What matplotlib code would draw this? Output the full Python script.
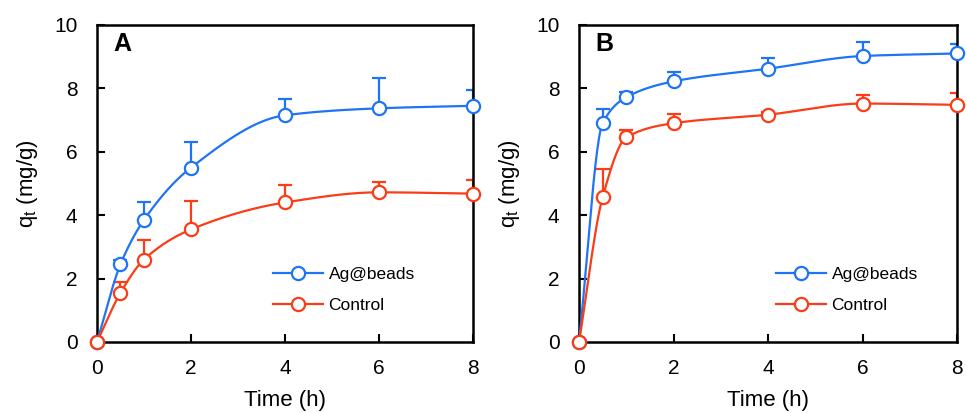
"""
Adsorption kinetics: q_t vs time for Ag@beads and control, panels A and B.
"""
import matplotlib.pyplot as plt
import numpy as np

plt.rcParams['font.family'] = ['Liberation Sans', 'DejaVu Sans']

time_h = [0, 0.5, 1, 2, 4, 6, 8]

# Panel A
a_beads = [0, 2.45, 3.85, 5.5, 7.15, 7.37, 7.45]
a_beads_err = [0, 0.15, 0.55, 0.8, 0.52, 0.95, 0.5]
a_control = [0, 1.55, 2.6, 3.55, 4.4, 4.72, 4.68]
a_control_err = [0, 0.35, 0.62, 0.9, 0.55, 0.33, 0.42]

# Panel B
b_beads = [0, 6.9, 7.72, 8.22, 8.62, 9.02, 9.1]
b_beads_err = [0, 0.45, 0.15, 0.28, 0.33, 0.43, 0.3]
b_control = [0, 4.57, 6.45, 6.9, 7.17, 7.52, 7.48]
b_control_err = [0, 0.88, 0.25, 0.3, 0.08, 0.28, 0.37]

BLUE = '#1f74f5'
RED = '#fb3c16'


def pchip(x, y, xs):
    """Monotone cubic (Fritsch-Carlson) used to draw the smoothed line."""
    x = np.asarray(x, float)
    y = np.asarray(y, float)
    h = np.diff(x)
    d = np.diff(y) / h
    m = np.zeros_like(y)
    for k in range(1, len(x) - 1):
        if d[k - 1] * d[k] > 0:
            w1 = 2 * h[k] + h[k - 1]
            w2 = h[k] + 2 * h[k - 1]
            m[k] = (w1 + w2) / (w1 / d[k - 1] + w2 / d[k])
    m[0] = d[0]
    m[-1] = d[-1]
    idx = np.clip(np.searchsorted(x, xs) - 1, 0, len(x) - 2)
    t = (xs - x[idx]) / h[idx]
    h00 = 2 * t**3 - 3 * t**2 + 1
    h10 = t**3 - 2 * t**2 + t
    h01 = -2 * t**3 + 3 * t**2
    h11 = t**3 - t**2
    return (h00 * y[idx] + h10 * h[idx] * m[idx]
            + h01 * y[idx + 1] + h11 * h[idx] * m[idx + 1])


def draw_panel(ax, series, letter, leg_x):
    xs = np.linspace(0, 8, 400)
    for y, err, color, label in series:
        ax.errorbar(time_h, y, yerr=[np.zeros(len(err)), err], fmt='none',
                    ecolor=color, elinewidth=1.6, capsize=5, capthick=1.6,
                    zorder=2)
        ax.plot(xs, pchip(time_h, y, xs), color=color, lw=1.6, zorder=3)
        ax.plot(time_h, y, 'o', ms=9.5, mfc='white', mec=color, mew=1.6,
                zorder=4, clip_on=False)
        ax.plot([], [], '-o', color=color, lw=1.6, ms=9.5, mfc='white',
                mec=color, mew=1.6, label=label)
    ax.set_xlim(0, 8)
    ax.set_ylim(0, 10)
    ax.set_xticks([0, 2, 4, 6, 8])
    ax.set_yticks([0, 2, 4, 6, 8, 10])
    ax.tick_params(direction='in', length=6, width=1.5, labelsize=15)
    ax.tick_params(axis='x', pad=12)
    ax.tick_params(axis='y', pad=14)
    for s in ax.spines.values():
        s.set_linewidth(1.8)
    ax.set_xlabel('Time (h)', fontsize=16, labelpad=9)
    ax.set_ylabel('q$_\\mathregular{t}$ (mg/g)', fontsize=16, labelpad=10)
    ax.text(0.043, 0.978, letter, transform=ax.transAxes, fontsize=18,
            fontweight='bold', va='top', ha='left')
    ax.legend(loc='upper left', bbox_to_anchor=(leg_x, 0.238), frameon=False,
              fontsize=12.5, handlelength=2.9, handletextpad=0.3,
              labelspacing=0.92, borderpad=0, borderaxespad=0)


fig = plt.figure(figsize=(9.67, 4.13), dpi=100)
ax_a = fig.add_axes([0.1003, 0.172, 0.3888, 0.7676])
ax_b = fig.add_axes([0.5988, 0.172, 0.391, 0.7676])

draw_panel(ax_a, [(a_beads, a_beads_err, BLUE, 'Ag@beads'),
                  (a_control, a_control_err, RED, 'Control')], 'A', 0.468)
draw_panel(ax_b, [(b_beads, b_beads_err, BLUE, 'Ag@beads'),
                  (b_control, b_control_err, RED, 'Control')], 'B', 0.521)

fig.savefig('out.png', dpi=100)
